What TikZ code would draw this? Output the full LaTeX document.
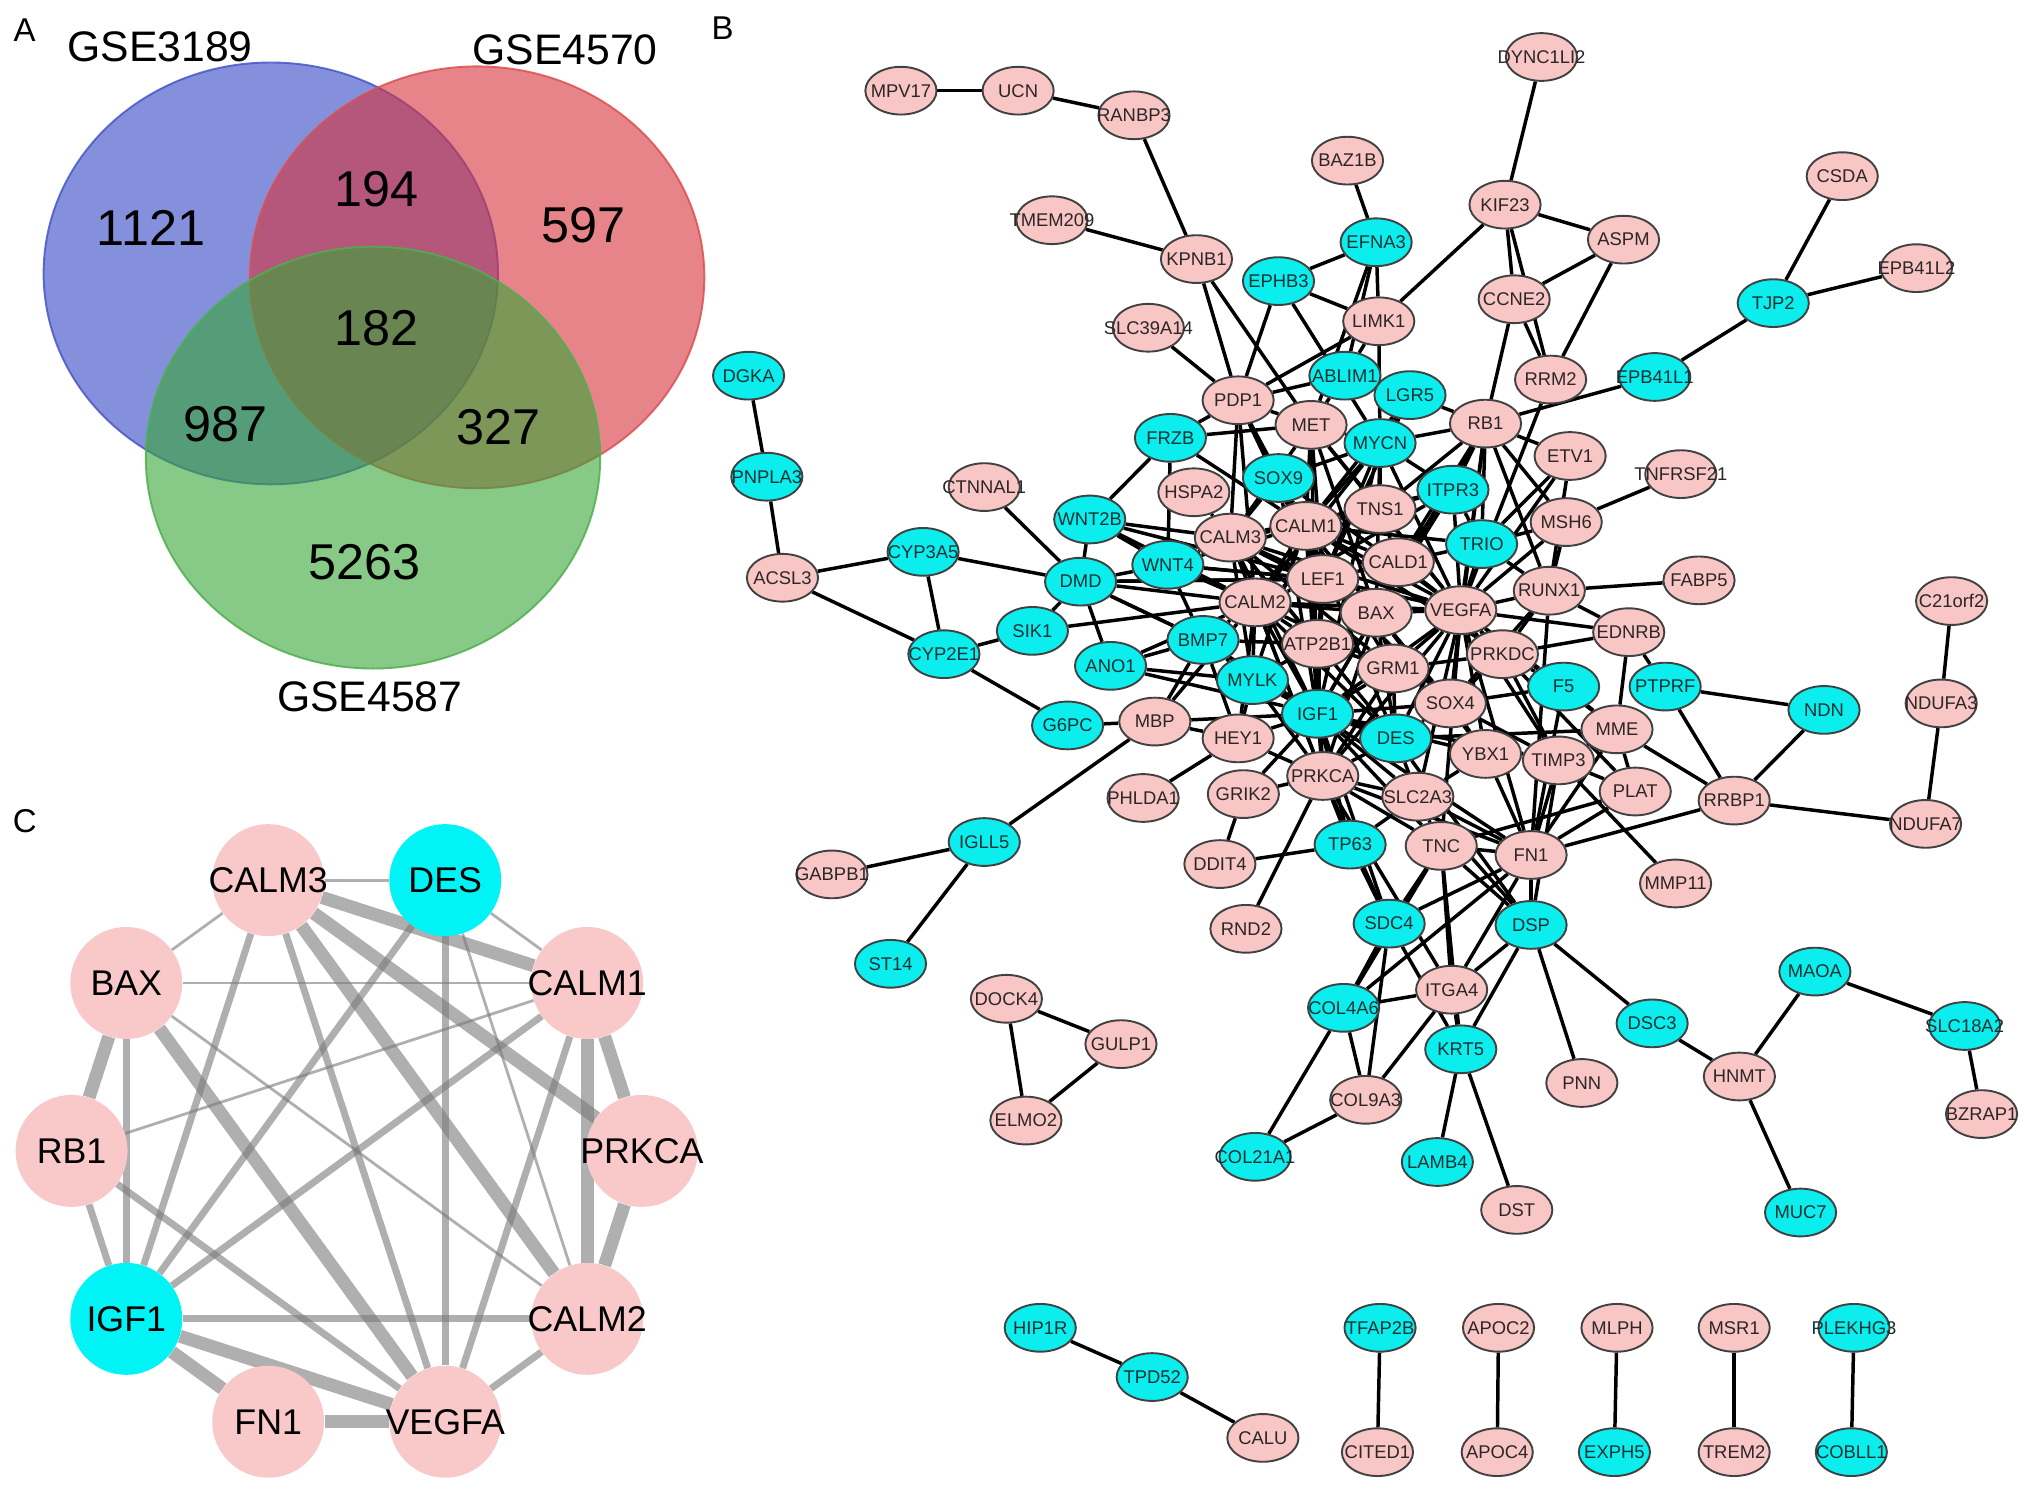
\documentclass[tikz,border=0pt]{standalone}
\usepackage{fontspec}
\setmainfont{Liberation Sans}
\usepackage{graphicx}
\usetikzlibrary{shapes.geometric}

\pgfdeclarelayer{paper}
\pgfdeclarelayer{links}
\pgfsetlayers{paper,links,main}

\definecolor{genepink}{RGB}{248,198,196}
\definecolor{genecyan}{RGB}{12,238,238}
\definecolor{pinktext}{RGB}{45,38,38}
\definecolor{cyantext}{RGB}{15,50,52}
\definecolor{geneline}{RGB}{65,65,65}
\definecolor{hubpink}{RGB}{249,200,200}
\definecolor{hubcyan}{RGB}{0,244,246}
\definecolor{hubedge}{RGB}{122,122,122}
\definecolor{vennblue}{RGB}{50,70,195}
\definecolor{vennred}{RGB}{215,50,60}
\definecolor{venngreen}{RGB}{55,165,55}

\newcommand{\gn}[1]{\makebox[0pt]{#1}}

\tikzset{every picture/.style={line width=0.75pt}}
\tikzset{
  gene/.style={ellipse, draw=geneline, line width=1.1pt, minimum width=41pt, minimum height=27.5pt, inner sep=0pt, font=\fontsize{10.6}{12}\selectfont},
  pinkgene/.style={gene, fill=genepink, text=pinktext},
  cyangene/.style={gene, fill=genecyan, text=cyantext},
  hubgene/.style={circle, minimum size=64.5pt, inner sep=0pt, text=black, font=\fontsize{20.6}{24}\selectfont},
  hubthin/.style={line width=1.6pt},
  hubmid/.style={line width=4pt},
  hubthick/.style={line width=7.5pt},
  vennset/.style={fill opacity=0.6, draw opacity=0.85, line width=1.1pt},
  count/.style={font=\fontsize{29}{32}\selectfont},
  setname/.style={font=\fontsize{24.6}{27}\selectfont},
  panel/.style={font=\fontsize{19}{22}\selectfont},
}

\begin{document}
\begin{tikzpicture}[x=0.75pt,y=0.75pt,yscale=-1,xscale=1]
\useasboundingbox (0,0) rectangle (1560,1147);
\begin{pgfonlayer}{paper}
\fill [white] (0,0) rectangle (1560,1147);
\end{pgfonlayer}

% Text Node
\node [panel] (labA) at (19,23) {A};
\node [panel] (labB) at (555,22) {B};
\node [panel] (labC) at (19,631) {C};

%Venn diagram
\filldraw [vennset, fill=vennblue, draw={rgb,255:red,72;green,86;blue,200}] (208,210) ellipse [x radius=174.5, y radius=162];
\filldraw [vennset, fill=vennred, draw={rgb,255:red,220;green,80;blue,80}] (366.5,213) ellipse [x radius=174.5, y radius=162];
\filldraw [vennset, fill=venngreen, draw={rgb,255:red,80;green,175;blue,80}] (286.5,351.5) ellipse [x radius=174.5, y radius=162];

% Text Node
\node [setname] (gse3189) at (123,36) {GSE3189};
\node [setname] (gse4570) at (434,38) {GSE4570};
\node [setname] (gse4587) at (284,535) {GSE4587};
\node [count] (nA) at (116,175) {1121};
\node [count] (nAB) at (289,145) {194};
\node [count] (nB) at (448,173) {597};
\node [count] (nABC) at (289,252) {182};
\node [count] (nAC) at (173,326) {987};
\node [count] (nBC) at (383,328) {327};
\node [count] (nC) at (280,432) {5263};

%PPI network
\begin{scope}[shift={(-6,0)}, yscale=0.995]
\node [pinkgene] (MPV17) at (698,70) {\gn{MPV17}};
\node [pinkgene] (UCN) at (788,70) {\gn{UCN}};
\node [pinkgene] (RANBP3) at (877,89) {\gn{RANBP3}};
\node [pinkgene] (DYNC1LI2) at (1190,44) {\gn{DYNC1LI2}};
\node [pinkgene] (BAZ1B) at (1041,124) {\gn{BAZ1B}};
\node [pinkgene] (KIF23) at (1162,158) {\gn{KIF23}};
\node [pinkgene] (CSDA) at (1421,136) {\gn{CSDA}};
\node [pinkgene] (TMEM209) at (814,170) {\gn{TMEM209}};
\node [pinkgene] (KPNB1) at (925,200) {\gn{KPNB1}};
\node [cyangene] (EFNA3) at (1063,187) {\gn{EFNA3}};
\node [pinkgene] (ASPM) at (1253,185) {\gn{ASPM}};
\node [pinkgene] (EPB41L2) at (1478,207) {\gn{EPB41L2}};
\node [cyangene] (EPHB3) at (988,217) {\gn{EPHB3}};
\node [pinkgene] (CCNE2) at (1169,231) {\gn{CCNE2}};
\node [cyangene] (TJP2) at (1368,234) {\gn{TJP2}};
\node [pinkgene] (LIMK1) at (1065,248) {\gn{LIMK1}};
\node [pinkgene] (SLC39A14) at (888,253) {\gn{SLC39A14}};
\node [pinkgene] (RRM2) at (1197,293) {\gn{RRM2}};
\node [cyangene] (EPB41L1) at (1277,291) {\gn{EPB41L1}};
\node [cyangene] (DGKA) at (581,290) {\gn{DGKA}};
\node [cyangene] (ABLIM1) at (1039,290) {\gn{ABLIM1}};
\node [cyangene] (LGR5) at (1089,305) {\gn{LGR5}};
\node [pinkgene] (PDP1) at (957,309) {\gn{PDP1}};
\node [pinkgene] (MET) at (1013,328) {\gn{MET}};
\node [pinkgene] (RB1) at (1147,327) {\gn{RB1}};
\node [cyangene] (FRZB) at (905,338) {\gn{FRZB}};
\node [cyangene] (MYCN) at (1066,342) {\gn{MYCN}};
\node [pinkgene] (ETV1) at (1212,352) {\gn{ETV1}};
\node [pinkgene] (TNFRSF21) at (1297,366) {\gn{TNFRSF21}};
\node [cyangene] (PNPLA3) at (595,368) {\gn{PNPLA3}};
\node [cyangene] (SOX9) at (988,369) {\gn{SOX9}};
\node [pinkgene] (CTNNAL1) at (762,376) {\gn{CTNNAL1}};
\node [pinkgene] (HSPA2) at (923,380) {\gn{HSPA2}};
\node [cyangene] (ITPR3) at (1122,378) {\gn{ITPR3}};
\node [pinkgene] (TNS1) at (1066,393) {\gn{TNS1}};
\node [pinkgene] (MSH6) at (1209,403) {\gn{MSH6}};
\node [cyangene] (WNT2B) at (843,401) {\gn{WNT2B}};
\node [pinkgene] (CALM1) at (1009,406) {\gn{CALM1}};
\node [pinkgene] (CALM3) at (951,415) {\gn{CALM3}};
\node [cyangene] (TRIO) at (1144,420) {\gn{TRIO}};
\node [cyangene] (CYP3A5) at (715,426) {\gn{CYP3A5}};
\node [pinkgene] (ACSL3) at (607,446) {\gn{ACSL3}};
\node [cyangene] (WNT4) at (903,436) {\gn{WNT4}};
\node [pinkgene] (CALD1) at (1080,434) {\gn{CALD1}};
\node [cyangene] (DMD) at (836,449) {\gn{DMD}};
\node [pinkgene] (LEF1) at (1022,447) {\gn{LEF1}};
\node [pinkgene] (FABP5) at (1311,448) {\gn{FABP5}};
\node [pinkgene] (RUNX1) at (1196,456) {\gn{RUNX1}};
\node [pinkgene] (CALM2) at (970,465) {\gn{CALM2}};
\node [pinkgene] (BAX) at (1063,473) {\gn{BAX}};
\node [pinkgene] (VEGFA) at (1128,471) {\gn{VEGFA}};
\node [pinkgene] (C21orf2) at (1505,464) {\gn{C21orf2}};
\node [cyangene] (SIK1) at (799,487) {\gn{SIK1}};
\node [pinkgene] (EDNRB) at (1257,488) {\gn{EDNRB}};
\node [pinkgene] (ATP2B1) at (1018,497) {\gn{ATP2B1}};
\node [cyangene] (BMP7) at (930,494) {\gn{BMP7}};
\node [pinkgene] (PRKDC) at (1160,505) {\gn{PRKDC}};
\node [cyangene] (CYP2E1) at (731,505) {\gn{CYP2E1}};
\node [cyangene] (ANO1) at (859,514) {\gn{ANO1}};
\node [pinkgene] (GRM1) at (1076,516) {\gn{GRM1}};
\node [cyangene] (MYLK) at (968,525) {\gn{MYLK}};
\node [cyangene] (F5) at (1207,530) {\gn{F5}};
\node [cyangene] (PTPRF) at (1285,530) {\gn{PTPRF}};
\node [pinkgene] (NDUFA3) at (1497,543) {\gn{NDUFA3}};
\node [cyangene] (NDN) at (1407,548) {\gn{NDN}};
\node [pinkgene] (SOX4) at (1120,543) {\gn{SOX4}};
\node [cyangene] (IGF1) at (1018,551) {\gn{IGF1}};
\node [cyangene] (G6PC) at (826,560) {\gn{G6PC}};
\node [pinkgene] (MBP) at (893,557) {\gn{MBP}};
\node [pinkgene] (MME) at (1248,563) {\gn{MME}};
\node [cyangene] (DES) at (1078,570) {\gn{DES}};
\node [pinkgene] (HEY1) at (957,570) {\gn{HEY1}};
\node [pinkgene] (YBX1) at (1147,582) {\gn{YBX1}};
\node [pinkgene] (TIMP3) at (1203,587) {\gn{TIMP3}};
\node [pinkgene] (PRKCA) at (1022,599) {\gn{PRKCA}};
\node [pinkgene] (SLC2A3) at (1095,615) {\gn{SLC2A3}};
\node [pinkgene] (PHLDA1) at (884,616) {\gn{PHLDA1}};
\node [pinkgene] (GRIK2) at (961,613) {\gn{GRIK2}};
\node [pinkgene] (PLAT) at (1262,611) {\gn{PLAT}};
\node [pinkgene] (RRBP1) at (1338,618) {\gn{RRBP1}};
\node [pinkgene] (NDUFA7) at (1485,636) {\gn{NDUFA7}};
\node [cyangene] (IGLL5) at (762,650) {\gn{IGLL5}};
\node [cyangene] (TP63) at (1043,652) {\gn{TP63}};
\node [pinkgene] (TNC) at (1113,653) {\gn{TNC}};
\node [pinkgene] (FN1) at (1182,660) {\gn{FN1}};
\node [pinkgene] (GABPB1) at (645,675) {\gn{GABPB1}};
\node [pinkgene] (DDIT4) at (943,667) {\gn{DDIT4}};
\node [pinkgene] (MMP11) at (1293,682) {\gn{MMP11}};
\node [pinkgene] (RND2) at (963,717) {\gn{RND2}};
\node [cyangene] (SDC4) at (1073,713) {\gn{SDC4}};
\node [cyangene] (DSP) at (1182,714) {\gn{DSP}};
\node [cyangene] (ST14) at (690,744) {\gn{ST14}};
\node [cyangene] (MAOA) at (1400,750) {\gn{MAOA}};
\node [pinkgene] (DOCK4) at (779,771) {\gn{DOCK4}};
\node [pinkgene] (ITGA4) at (1121,764) {\gn{ITGA4}};
\node [cyangene] (COL4A6) at (1038,778) {\gn{COL4A6}};
\node [cyangene] (DSC3) at (1275,790) {\gn{DSC3}};
\node [cyangene] (SLC18A2) at (1515,792) {\gn{SLC18A2}};
\node [pinkgene] (GULP1) at (867,806) {\gn{GULP1}};
\node [cyangene] (KRT5) at (1128,810) {\gn{KRT5}};
\node [pinkgene] (HNMT) at (1342,831) {\gn{HNMT}};
\node [pinkgene] (PNN) at (1221,836) {\gn{PNN}};
\node [pinkgene] (COL9A3) at (1055,849) {\gn{COL9A3}};
\node [pinkgene] (ELMO2) at (794,865) {\gn{ELMO2}};
\node [pinkgene] (BZRAP1) at (1528,860) {\gn{BZRAP1}};
\node [cyangene] (COL21A1) at (970,893) {\gn{COL21A1}};
\node [cyangene] (LAMB4) at (1110,897) {\gn{LAMB4}};
\node [pinkgene] (DST) at (1171,934) {\gn{DST}};
\node [cyangene] (MUC7) at (1389,936) {\gn{MUC7}};
\node [cyangene] (HIP1R) at (805,1025) {\gn{HIP1R}};
\node [cyangene] (TPD52) at (891,1063) {\gn{TPD52}};
\node [pinkgene] (CALU) at (976,1110) {\gn{CALU}};
\node [cyangene] (TFAP2B) at (1066,1025) {\gn{TFAP2B}};
\node [pinkgene] (CITED1) at (1064,1121) {\gn{CITED1}};
\node [pinkgene] (APOC2) at (1157,1025) {\gn{APOC2}};
\node [pinkgene] (APOC4) at (1156,1121) {\gn{APOC4}};
\node [pinkgene] (MLPH) at (1248,1025) {\gn{MLPH}};
\node [cyangene] (EXPH5) at (1246,1121) {\gn{EXPH5}};
\node [pinkgene] (MSR1) at (1338,1025) {\gn{MSR1}};
\node [pinkgene] (TREM2) at (1338,1121) {\gn{TREM2}};
\node [cyangene] (PLEKHG3) at (1430,1025) {\gn{PLEKHG3}};
\node [cyangene] (COBLL1) at (1428,1121) {\gn{COBLL1}};
\end{scope}

%Hub genes
\node [hubgene, fill=hubpink] (hCALM3) at (206,676) {\gn{CALM3}};
\node [hubgene, fill=hubcyan] (hDES) at (342,676) {\gn{DES}};
\node [hubgene, fill=hubpink] (hBAX) at (97,755) {\gn{BAX}};
\node [hubgene, fill=hubpink] (hCALM1) at (451,755) {\gn{CALM1}};
\node [hubgene, fill=hubpink] (hRB1) at (55,884) {\gn{RB1}};
\node [hubgene, fill=hubpink] (hPRKCA) at (493,884) {\gn{PRKCA}};
\node [hubgene, fill=hubcyan] (hIGF1) at (97,1013) {\gn{IGF1}};
\node [hubgene, fill=hubpink] (hCALM2) at (451,1013) {\gn{CALM2}};
\node [hubgene, fill=hubpink] (hFN1) at (206,1092) {\gn{FN1}};
\node [hubgene, fill=hubpink] (hVEGFA) at (342,1092) {\gn{VEGFA}};

\begin{pgfonlayer}{links}
\begin{scope}[every edge/.style={draw=black, line width=2pt}]
%periphery
\path (UCN) edge (MPV17) edge (RANBP3);
\path (KPNB1) edge (RANBP3) edge (TMEM209) edge (PDP1) edge (MET);
\path (EFNA3) edge (BAZ1B) edge (EPHB3) edge (LIMK1) edge (ABLIM1) edge (MET);
\path (EPHB3) edge (LIMK1) edge (PDP1) edge (MYCN);
\path (LIMK1) edge (PDP1) edge (KIF23) edge (ABLIM1) edge (MYCN);
\path (SLC39A14) edge (PDP1);
\path (KIF23) edge (DYNC1LI2) edge (ASPM) edge (CCNE2) edge (RRM2);
\path (CCNE2) edge (ASPM) edge (RRM2) edge (RB1);
\path (RRM2) edge (ASPM) edge (VEGFA);
\path (TJP2) edge (CSDA) edge (EPB41L2) edge (EPB41L1);
\path (EPB41L1) edge (RB1);
\path (PNPLA3) edge (DGKA) edge (ACSL3);
\path (ACSL3) edge (CYP3A5) edge (CYP2E1);
\path (CYP3A5) edge (CYP2E1) edge (DMD);
\path (CTNNAL1) edge (DMD);
\path (CYP2E1) edge (SIK1) edge (G6PC);
\path (SIK1) edge (DMD) edge (CALM2);
\path (MBP) edge (G6PC) edge (IGLL5) edge (HEY1) edge (IGF1) edge (BMP7) edge (CALM2);
\path (IGLL5) edge (GABPB1) edge (ST14);
\path (HEY1) edge (PHLDA1);
\path (GRIK2) edge (DDIT4) edge (PRKCA) edge (IGF1);
\path (TP63) edge (DDIT4) edge (SDC4) edge (PRKCA) edge (IGF1) edge (SLC2A3);
\path (PRKCA) edge (RND2);
\path (MSH6) edge (TNFRSF21);
\path (RUNX1) edge (FABP5);
\path (EDNRB) edge (PRKDC) edge (MME) edge (RUNX1) edge (PTPRF) edge (VEGFA);
\path (PTPRF) edge (NDN) edge (RRBP1);
\path (RRBP1) edge (NDN) edge (NDUFA7) edge (MME) edge (FN1);
\path (NDUFA3) edge (C21orf2) edge (NDUFA7);
\path (TIMP3) edge (MMP11);
\path (MAOA) edge (SLC18A2) edge (HNMT);
\path (SLC18A2) edge (BZRAP1);
\path (HNMT) edge (MUC7) edge (DSC3);
\path (DSP) edge (DSC3) edge (PNN) edge (KRT5) edge (ITGA4);
\path (KRT5) edge (LAMB4) edge (DST) edge (ITGA4);
\path (SDC4) edge (COL4A6) edge (COL9A3) edge (KRT5) edge (TNC);
\path (COL4A6) edge (ITGA4) edge (COL9A3) edge (COL21A1);
\path (COL9A3) edge (COL21A1) edge (ITGA4);
\path (DOCK4) edge (GULP1) edge (ELMO2);
\path (GULP1) edge (ELMO2);
\path (TPD52) edge (HIP1R) edge (CALU);
\path (TFAP2B) edge (CITED1);
\path (APOC2) edge (APOC4);
\path (MLPH) edge (EXPH5);
\path (MSR1) edge (TREM2);
\path (PLEKHG3) edge (COBLL1);
%core
\path (PDP1) edge (FRZB) edge (MET) edge (CALM3) edge (CALM1) edge (CALM2) edge (LEF1) edge (SOX9) edge (ABLIM1);
\path (MET) edge (FRZB) edge (CALM1) edge (CALM3) edge (LEF1) edge (BAX) edge (MYCN) edge (ABLIM1) edge (TNS1) edge (IGF1) edge (VEGFA);
\path (SOX9) edge (CALM1) edge (CALM3) edge (LEF1) edge (MYCN) edge (VEGFA) edge (IGF1);
\path (MYCN) edge (RB1) edge (ITPR3) edge (CALM1) edge (TNS1) edge (LEF1) edge (BAX) edge (VEGFA) edge (IGF1) edge (CALM2);
\path (LGR5) edge (LEF1) edge (RB1) edge (CALM1) edge (MYCN) edge (ABLIM1);
\path (RB1) edge (ITPR3) edge (TRIO) edge (VEGFA) edge (BAX) edge (ETV1) edge (MSH6) edge (RUNX1) edge (CALD1) edge (TNS1) edge (SOX4) edge (IGF1);
\path (ETV1) edge (RUNX1) edge (VEGFA) edge (TRIO);
\path (MSH6) edge (TRIO) edge (VEGFA) edge (RUNX1);
\path (ITPR3) edge (CALM1) edge (CALM2) edge (CALM3) edge (CALD1) edge (VEGFA) edge (TRIO) edge (BAX);
\path (TRIO) edge (VEGFA) edge (CALD1) edge (CALM1) edge (RUNX1);
\path (TNS1) edge (CALM1) edge (CALD1) edge (VEGFA);
\path (CALM1) edge (CALM2) edge (CALM3) edge (LEF1) edge (BAX) edge (VEGFA) edge (ATP2B1) edge (GRM1) edge (IGF1) edge (MYLK) edge (DES) edge (PRKCA) edge (CALD1) edge (PRKDC) edge (SOX4);
\path (CALM3) edge (CALM2) edge (LEF1) edge (BAX) edge (VEGFA) edge (ATP2B1) edge (GRM1) edge (IGF1) edge (MYLK) edge (DES) edge (PRKCA) edge (HSPA2) edge (WNT4) edge (WNT2B);
\path (CALM2) edge (LEF1) edge (BAX) edge (VEGFA) edge (ATP2B1) edge (GRM1) edge (IGF1) edge (MYLK) edge (DES) edge (PRKCA) edge (WNT4) edge (DMD) edge (BMP7) edge (ANO1) edge (HEY1);
\path (LEF1) edge (BAX) edge (VEGFA) edge (CALD1) edge (WNT4) edge (WNT2B) edge (DMD) edge (ATP2B1) edge (SOX4) edge (IGF1);
\path (BAX) edge (VEGFA) edge (CALD1) edge (IGF1) edge (GRM1) edge (PRKCA) edge (SOX4) edge (DES) edge (YBX1);
\path (VEGFA) edge (RUNX1) edge (PRKDC) edge (IGF1) edge (SOX4) edge (DES) edge (PRKCA) edge (GRM1) edge (CALD1) edge (FN1) edge (TNC) edge (F5) edge (MME) edge (TIMP3) edge (YBX1) edge (SLC2A3) edge (PLAT);
\path (RUNX1) edge (PRKDC) edge (SOX4) edge (FN1);
\path (PRKDC) edge (SOX4) edge (GRM1) edge (F5) edge (TIMP3);
\path (ATP2B1) edge (GRM1) edge (IGF1) edge (MYLK) edge (PRKCA) edge (BMP7);
\path (GRM1) edge (IGF1) edge (SOX4) edge (DES) edge (PRKCA);
\path (IGF1) edge (MYLK) edge (DES) edge (PRKCA) edge (SOX4) edge (HEY1) edge (BMP7) edge (FN1) edge (TNC) edge (SLC2A3) edge (YBX1) edge (TIMP3) edge (SDC4);
\path (MYLK) edge (BMP7) edge (HEY1) edge (PRKCA) edge (DES);
\path (DES) edge (PRKCA) edge (SOX4) edge (SLC2A3) edge (MME) edge (DSP);
\path (SOX4) edge (YBX1) edge (TIMP3) edge (F5);
\path (PRKCA) edge (SLC2A3) edge (TNC) edge (FN1) edge (SDC4) edge (HEY1) edge (ITGA4);
\path (BMP7) edge (ANO1) edge (HEY1) edge (DMD) edge (WNT4);
\path (ANO1) edge (DMD) edge (MYLK) edge (IGF1);
\path (DMD) edge (WNT4) edge (BMP7) edge (LEF1);
\path (WNT2B) edge (FRZB) edge (WNT4) edge (CALM2) edge (DMD);
\path (FRZB) edge (WNT4) edge (CALM1);
\path (WNT4) edge (CALM1) edge (LEF1);
\path (FN1) edge (TNC) edge (TIMP3) edge (PLAT) edge (MME) edge (YBX1) edge (SDC4) edge (ITGA4) edge (DSP) edge (COL4A6) edge (SLC2A3) edge (F5);
\path (TNC) edge (ITGA4) edge (DSP) edge (COL4A6) edge (SLC2A3) edge (PLAT) edge (KRT5);
\path (TIMP3) edge (MME) edge (YBX1) edge (PLAT) edge (DSP);
\path (MME) edge (F5) edge (PLAT);
\path (SLC2A3) edge (DSP) edge (YBX1);
\end{scope}

\begin{scope}[every edge/.style={draw=hubedge, draw opacity=0.6}]
\path (hCALM3) edge [hubthin] (hDES) edge [hubthin] (hBAX) edge [hubthick] (hCALM1) edge [hubthick] (hPRKCA) edge [hubthick] (hCALM2) edge [hubmid] (hVEGFA) edge [hubmid] (hIGF1);
\path (hDES) edge [hubthin] (hCALM1) edge [hubmid] (hIGF1) edge [hubmid] (hVEGFA) edge [hubthin] (hCALM2);
\path (hBAX) edge [hubthin] (hCALM1) edge [hubthick] (hRB1) edge [hubmid] (hIGF1) edge [hubthick] (hVEGFA) edge [hubthin] (hCALM2);
\path (hCALM1) edge [hubthin] (hRB1) edge [hubmid] (hIGF1) edge [hubthick] (hPRKCA) edge [hubthick] (hCALM2) edge [hubmid] (hVEGFA);
\path (hRB1) edge [hubmid] (hIGF1) edge [hubmid] (hVEGFA);
\path (hPRKCA) edge [hubthick] (hCALM2);
\path (hIGF1) edge [hubmid] (hCALM2) edge [hubthick] (hVEGFA) edge [hubthick] (hFN1);
\path (hFN1) edge [hubthick] (hVEGFA);
\path (hCALM2) edge [hubmid] (hVEGFA);
\end{scope}
\end{pgfonlayer}

\end{tikzpicture}
\end{document}
